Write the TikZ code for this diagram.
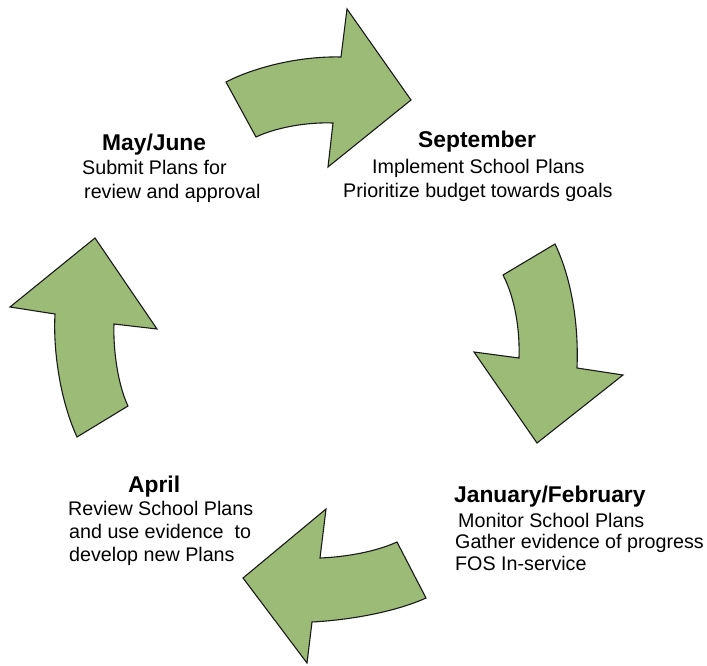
\documentclass[tikz,border=0pt]{standalone}
\usepackage{fontspec}
\setmainfont{Liberation Sans}
\definecolor{arrowgreen}{HTML}{9BBB77}
\definecolor{arrowline}{HTML}{1A1A1A}
\begin{document}
\begin{tikzpicture}[x=1pt,y=-1pt,
  cyc/.style={fill=arrowgreen,draw=arrowline,line width=1.1pt,line join=miter},
  hd/.style={anchor=base west,inner sep=0pt,font=\fontsize{22.8}{26}\selectfont\bfseries},
  tx/.style={anchor=base west,inner sep=0pt,font=\fontsize{19.7}{23}\selectfont}]
\useasboundingbox (0,0) rectangle (707,666);
% top arrow
\path[cyc] (226,82) .. controls (255,67) and (300,56) .. (341,57) -- (347,9) -- (411,100) -- (328,167) -- (333,123) .. controls (305,122) and (275,128) .. (256,137) -- cycle;
% right arrow
\path[cyc] (555,244) .. controls (570,275) and (579,320) .. (577,368) -- (623,375) -- (537,443) -- (474,352) -- (519,358) .. controls (520,330) and (515,298) .. (503,275) -- cycle;
% bottom arrow
\path[cyc] (426,598) .. controls (395,612) and (350,620) .. (312,622) -- (307,663) -- (243,578) -- (326,509) -- (320,558) .. controls (345,557) and (375,552) .. (397,542) -- cycle;
% left arrow
\path[cyc] (77,437) .. controls (60,400) and (53,350) .. (55,314) -- (10,307) -- (95,238) -- (157,329) -- (114,324) .. controls (113,350) and (118,385) .. (128,406) -- cycle;
% May/June
\node[hd] (mayh) at (102,150) {May/June};
\node[tx] (may1) at (82,175) {Submit Plans for};
\node[tx] (may2) at (84,198) {review and approval};
% September
\node[hd] (seph) at (418,148) {September};
\node[tx] (sep1) at (372,174) {Implement School Plans};
\node[tx] (sep2) at (343,197) {Prioritize budget towards goals};
% January/February
\node[hd] (janh) at (454,502) {January/February};
\node[tx] (jan1) at (458,527) {Monitor School Plans};
\node[tx] (jan2) at (455,548) {Gather evidence of progress};
\node[tx] (jan3) at (455,570) {FOS In-service};
% April
\node[hd] (aprh) at (128,492) {April};
\node[tx] (apr1) at (68,515) {Review School Plans};
\node[tx] (apr2) at (69,538) {and use evidence\ \ to};
\node[tx] (apr3) at (69,561) {develop new Plans};
\end{tikzpicture}
\end{document}
